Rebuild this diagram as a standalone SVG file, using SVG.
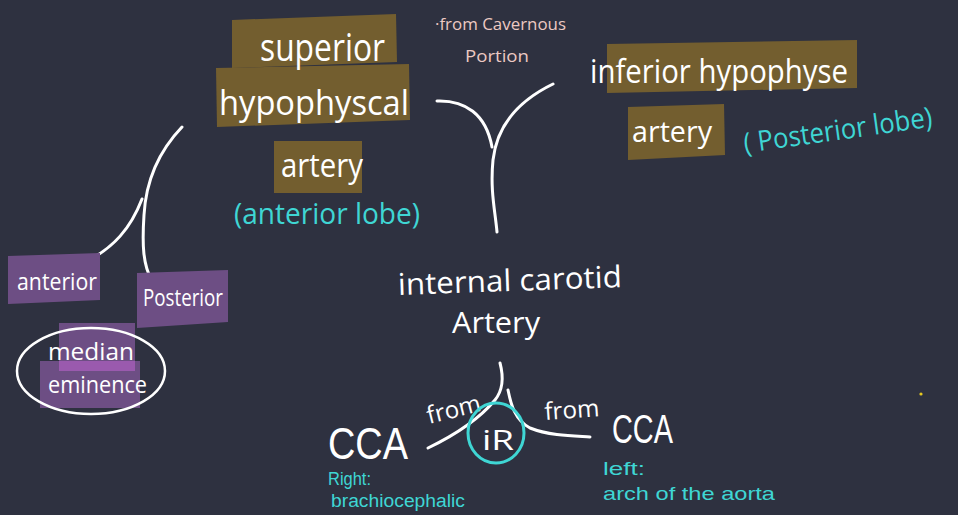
<svg xmlns="http://www.w3.org/2000/svg" width="958" height="515" viewBox="0 0 958 515">
  <defs>
    <style>
      .hand { font-family: "Open Sans", "Liberation Sans", sans-serif; fill: #ffffff; }
      .note { font-family: "Open Sans", "Liberation Sans", sans-serif; fill: #3fd6d4; }
      .small { font-family: "Liberation Sans", "Open Sans", sans-serif; fill: #3fd6d4; }
      .big { font-family: "Liberation Sans", "Open Sans", sans-serif; fill: #ffffff; }
      .pink { font-family: "Open Sans", "Liberation Sans", sans-serif; fill: #ecc9c3; }
      .olive { fill: #735e2f; }
      .violet { fill: #6d4e84; }
      .line { fill: none; stroke: #ffffff; stroke-width: 3; stroke-linecap: round; stroke-linejoin: round; }
    </style>
  </defs>

  <!-- board -->
  <rect x="0" y="0" width="958" height="515" fill="#2e3140"/>

  <!-- connectors -->
  <g id="connectors">
    <!-- branches joining at the top of the internal carotid stem -->
    <path class="line" d="M437,101 C465,100 486,114 492,147"/>
    <path class="line" d="M553,84 C520,100 497,125 493,160 C490,190 495,210 497,232"/>
    <!-- anterior / posterior split -->
    <path class="line" d="M182,127 C160,150 146,180 144,215 C142,245 143,265 152,281"/>
    <path class="line" d="M142,199 C132,225 115,250 78,265"/>
    <!-- origin from the two common carotids -->
    <path class="line" d="M500,363 C504,378 503,390 495,400 C480,418 455,435 428,448"/>
    <path class="line" d="M508,390 C511,405 515,420 530,428 C550,436 575,436 590,437"/>
  </g>

  <!-- superior hypophyseal artery -->
  <g id="superior-hypophyseal">
    <polygon class="olive" points="232,20 396,14 397,62 232,68"/>
    <polygon class="olive" points="216,68 409,64 410,120 217,127"/>
    <rect class="olive" x="274" y="141" width="88" height="52"/>
    <text class="hand" x="260" y="61" font-size="38" textLength="125" lengthAdjust="spacingAndGlyphs">superior</text>
    <text class="hand" x="219" y="115" font-size="34" textLength="190" lengthAdjust="spacingAndGlyphs">hypophyscal</text>
    <text class="hand" x="281" y="177" font-size="32" textLength="82" lengthAdjust="spacingAndGlyphs">artery</text>
    <text class="note" x="234" y="224" font-size="30" textLength="186" lengthAdjust="spacingAndGlyphs">(anterior lobe)</text>
  </g>

  <!-- note on origin -->
  <g id="cavernous-note">
    <text class="pink" x="435" y="30" font-size="17" textLength="131" lengthAdjust="spacingAndGlyphs">·from Cavernous</text>
    <text class="pink" x="465" y="62" font-size="17" textLength="64" lengthAdjust="spacingAndGlyphs">Portion</text>
  </g>

  <!-- inferior hypophyseal artery -->
  <g id="inferior-hypophyseal">
    <polygon class="olive" points="607,44 857,40 857,88 607,93"/>
    <polygon class="olive" points="628,107 724,104 725,155 628,160"/>
    <text class="hand" x="590" y="83" font-size="33" textLength="258" lengthAdjust="spacingAndGlyphs">inferior hypophyse</text>
    <text class="hand" x="632" y="142" font-size="30" textLength="80" lengthAdjust="spacingAndGlyphs">artery</text>
    <text class="note" x="0" y="0" font-size="28" textLength="190" lengthAdjust="spacingAndGlyphs" transform="translate(745,153) rotate(-8)">( Posterior lobe)</text>
  </g>

  <!-- anterior branch -->
  <g id="anterior">
    <polygon class="violet" points="8,256 100,253 100,300 8,304"/>
    <text class="hand" x="17" y="290" font-size="24" textLength="80" lengthAdjust="spacingAndGlyphs">anterior</text>
  </g>

  <!-- posterior branch -->
  <g id="posterior">
    <polygon class="violet" points="137,273 228,270 228,322 137,328"/>
    <text class="hand" x="143" y="306" font-size="24" textLength="80" lengthAdjust="spacingAndGlyphs">Posterior</text>
  </g>

  <!-- median eminence -->
  <g id="median-eminence">
    <rect class="violet" x="59" y="323" width="76" height="48"/>
    <rect class="violet" x="40" y="361" width="100" height="47"/>
    <rect x="59" y="361" width="76" height="10" fill="#9a5aae"/>
    <ellipse cx="91" cy="371" rx="74" ry="43" fill="none" stroke="#ffffff" stroke-width="2.5"/>
    <text class="hand" x="48" y="360" font-size="24" textLength="86" lengthAdjust="spacingAndGlyphs">median</text>
    <text class="hand" x="48" y="393" font-size="24" textLength="99" lengthAdjust="spacingAndGlyphs">eminence</text>
  </g>

  <!-- internal carotid artery -->
  <g id="internal-carotid">
    <text class="hand" x="398" y="291" font-size="30" textLength="224" lengthAdjust="spacingAndGlyphs" transform="rotate(-2 510 285)">internal carotid</text>
    <text class="hand" x="452" y="333" font-size="30" textLength="88" lengthAdjust="spacingAndGlyphs">Artery</text>
  </g>

  <!-- "from" labels and the crossing mark -->
  <g id="origin-labels">
    <text class="hand" x="0" y="0" font-size="24" textLength="55" lengthAdjust="spacingAndGlyphs" transform="translate(429,424) rotate(-14)">from</text>
    <text class="hand" x="0" y="0" font-size="24" textLength="55" lengthAdjust="spacingAndGlyphs" transform="translate(545,420) rotate(-4)">from</text>
  </g>
  <g id="ir-mark">
    <ellipse cx="496" cy="433" rx="28" ry="30" fill="none" stroke="#3fd6d4" stroke-width="3"/>
    <text class="hand" x="482" y="450" font-size="27" textLength="32" lengthAdjust="spacingAndGlyphs">iR</text>
  </g>

  <!-- right common carotid -->
  <g id="cca-right">
    <text class="big" x="328" y="459" font-size="44" textLength="80" lengthAdjust="spacingAndGlyphs">CCA</text>
    <text class="small" x="328" y="485" font-size="18" textLength="43" lengthAdjust="spacingAndGlyphs">Right:</text>
    <text class="small" x="331" y="507" font-size="18" textLength="134" lengthAdjust="spacingAndGlyphs">brachiocephalic</text>
  </g>

  <!-- left common carotid -->
  <g id="cca-left">
    <text class="big" x="612" y="443" font-size="41" textLength="61" lengthAdjust="spacingAndGlyphs">CCA</text>
    <text class="small" x="603" y="475" font-size="19" textLength="42" lengthAdjust="spacingAndGlyphs">left:</text>
    <text class="small" x="603" y="500" font-size="19" textLength="172" lengthAdjust="spacingAndGlyphs">arch of the aorta</text>
  </g>

  <!-- stray pen dot -->
  <circle cx="921" cy="394" r="1.6" fill="#e6c820"/>
</svg>
